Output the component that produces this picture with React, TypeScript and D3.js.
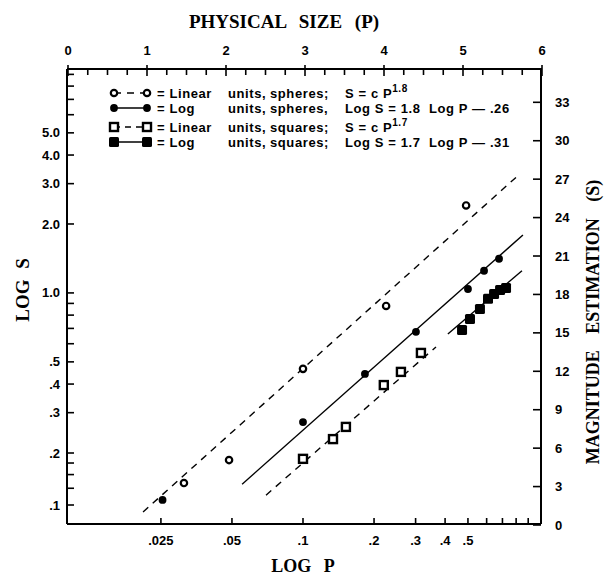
import React from "react";
import * as d3 from "d3";

// P values on the log axis, S values on the log axis
const linearSpheresP = [0.0313, 0.0486, 0.1, 0.225, 0.491];
const linearSpheresS = [0.134, 0.182, 0.466, 0.877, 2.41];

const logSpheresP = [0.0254, 0.1, 0.183, 0.301, 0.5, 0.585, 0.677];
const logSpheresS = [0.107, 0.273, 0.443, 0.676, 1.04, 1.25, 1.41];

const linearSquaresP = [0.1, 0.134, 0.152, 0.22, 0.26, 0.316];
const linearSquaresS = [0.185, 0.23, 0.26, 0.396, 0.452, 0.547];

const logSquaresP = [0.472, 0.51, 0.562, 0.608, 0.645, 0.684, 0.725];
const logSquaresS = [0.689, 0.77, 0.851, 0.942, 0.99, 1.03, 1.05];

// fitted lines: [start, end]
const fitLinearSpheres = [[0.021, 0.0911], [0.83, 3.31]];
const fitLogSpheres = [[0.0552, 0.132], [0.855, 1.79]];
const fitLinearSquares = [[0.0697, 0.114], [0.366, 0.581]];
const fitLogSquares = [[0.411, 0.662], [0.847, 1.25]];

const bottomTicks = [0.025, 0.05, 0.1, 0.2, 0.3, 0.4, 0.5];
const bottomLabels = [".025", ".05", ".1", ".2", ".3", ".4", ".5"];
const bottomMinor = [0.6, 0.7, 0.8, 0.9];

const leftTicks = [0.1, 0.2, 0.3, 0.4, 0.5, 1, 2, 3, 4, 5];
const leftLabels = [".1", ".2", ".3", ".4", ".5", "1.0", "2.0", "3.0", "4.0", "5.0"];
const leftMinor = [0.125, 0.15, 0.175, 0.6, 0.7, 0.8, 0.9, 6, 7, 8, 9];

const topTicks = [0, 1, 2, 3, 4, 5, 6];
const rightTicks = [0, 3, 6, 9, 12, 15, 18, 21, 24, 27, 30, 33];

const legendWords = ["Linear", "Log", "Linear", "Log"];
const legendShapes = ["spheres;", "spheres,", "squares;", "squares;"];

const W = 613;
const H = 579;
const L = 67;
const R = 540;
const T = 69;
const B = 524;

const sans = "'Liberation Sans', Arial, sans-serif";
const serif = "'Liberation Serif', 'Times New Roman', serif";

export default function App() {
  const x = d3.scaleLog().domain([0.01, 1]).range([L, R - 1]);
  const xTop = d3.scaleLinear().domain([0, 6]).range([68, 542]);
  // the printed log S axis is squeezed below .2, so the scale is piecewise
  const y = d3
    .scaleLog()
    .domain([0.0776, 0.1, 0.2, 9.5])
    .range([B, 505, 453, T]);
  const yRight = d3.scaleLinear().domain([0, 35.6]).range([525, T]);

  const line = d3
    .line<number[]>()
    .x((d) => x(d[0]))
    .y((d) => y(d[1]));

  const topMinor = d3.range(0, 6.01, 0.25).filter((v) => v % 1 !== 0);

  const dash = "7,6";

  const openCircle = (cx: number, cy: number, k: string | number) => (
    <circle key={k} cx={cx} cy={cy} r={3.2} fill="white" stroke="black" strokeWidth={2.2} />
  );
  const filledCircle = (cx: number, cy: number, k: string | number) => (
    <circle key={k} cx={cx} cy={cy} r={3.9} fill="black" />
  );
  const openSquare = (cx: number, cy: number, k: string | number) => (
    <rect key={k} x={cx - 4} y={cy - 4} width={8} height={8} fill="white" stroke="black" strokeWidth={2.4} />
  );
  const filledSquare = (cx: number, cy: number, k: string | number) => (
    <rect key={k} x={cx - 5} y={cy - 5} width={10} height={10} rx={1.5} fill="black" />
  );

  const legendY = [93, 108, 127, 142];
  const legendMarks = [openCircle, filledCircle, openSquare, filledSquare];
  const legendDash = [dash, null, "6,5", null];

  const formula = (i: number) => {
    if (i === 0)
      return (
        <>
          S = c P<tspan dy={-6} fontSize={10}>1.8</tspan>
        </>
      );
    if (i === 1) return <>Log S = 1.8  Log P — .26</>;
    if (i === 2)
      return (
        <>
          S = c P<tspan dy={-6} fontSize={10}>1.7</tspan>
        </>
      );
    return <>Log S = 1.7  Log P — .31</>;
  };

  return (
    <svg
      width={W}
      height={H}
      style={{ position: "absolute", left: 0, top: 0, background: "white" }}
    >
      {/* frame */}
      <g stroke="black" strokeWidth={2} fill="none">
        <line x1={L} y1={T} x2={R + 2} y2={T} />
        <line x1={L} y1={B} x2={R + 1} y2={B} />
        <line x1={L} y1={T} x2={L} y2={B} />
        <line x1={R + 1} y1={T} x2={R + 1} y2={B} />
      </g>

      {/* top axis: physical size */}
      <g stroke="black" strokeWidth={1.6}>
        {topTicks.map((t) => (
          <line key={t} x1={xTop(t)} x2={xTop(t)} y1={T - 4} y2={T + 7} />
        ))}
        {topMinor.map((t) => (
          <line key={t} x1={xTop(t)} x2={xTop(t)} y1={T} y2={T + 6} />
        ))}
      </g>
      {topTicks.map((t) => (
        <text
          key={t}
          x={xTop(t)}
          y={55}
          textAnchor="middle"
          fontFamily={sans}
          fontWeight="bold"
          fontSize={13}
        >
          {t}
        </text>
      ))}
      <text
        x={284}
        y={28}
        textAnchor="middle"
        fontFamily={serif}
        fontWeight="bold"
        fontSize={19}
        style={{ wordSpacing: 8 }}
      >
        PHYSICAL SIZE (P)
      </text>

      {/* bottom axis: log P */}
      <g stroke="black" strokeWidth={1.6}>
        {bottomTicks.concat(bottomMinor).map((t) => (
          <line key={t} x1={x(t)} x2={x(t)} y1={B} y2={B - 6} />
        ))}
      </g>
      {bottomTicks.map((t, i) => (
        <text
          key={t}
          x={x(t)}
          y={545}
          textAnchor="middle"
          fontFamily={sans}
          fontWeight="bold"
          fontSize={13}
        >
          {bottomLabels[i]}
        </text>
      ))}
      <text
        x={303}
        y={572}
        textAnchor="middle"
        fontFamily={serif}
        fontWeight="bold"
        fontSize={18}
        style={{ wordSpacing: 8 }}
      >
        LOG P
      </text>

      {/* left axis: log S */}
      <g stroke="black" strokeWidth={1.6}>
        {leftTicks.concat(leftMinor).map((t) => (
          <line key={t} x1={L} x2={L + 7} y1={y(t)} y2={y(t)} />
        ))}
      </g>
      {leftTicks.map((t, i) => (
        <text
          key={t}
          x={60}
          y={y(t)}
          dy="0.35em"
          textAnchor="end"
          fontFamily={sans}
          fontWeight="bold"
          fontSize={13}
        >
          {leftLabels[i]}
        </text>
      ))}
      <text
        transform="translate(29,290) rotate(-90)"
        textAnchor="middle"
        fontFamily={serif}
        fontWeight="bold"
        fontSize={19}
        style={{ wordSpacing: 6 }}
      >
        LOG S
      </text>

      {/* right axis: magnitude estimation */}
      <g stroke="black" strokeWidth={1.6}>
        {rightTicks.map((t) => (
          <line key={t} x1={R + 1} x2={R - 7} y1={yRight(t)} y2={yRight(t)} />
        ))}
      </g>
      {rightTicks.map((t) => (
        <text
          key={t}
          x={555}
          y={yRight(t)}
          dy="0.35em"
          fontFamily={sans}
          fontWeight="bold"
          fontSize={13}
        >
          {t}
        </text>
      ))}
      <text
        transform="translate(599,322) rotate(-90)"
        textAnchor="middle"
        fontFamily={serif}
        fontWeight="bold"
        fontSize={18}
        style={{ wordSpacing: 12 }}
      >
        MAGNITUDE ESTIMATION (S)
      </text>

      {/* fitted lines */}
      <g fill="none" stroke="black" strokeWidth={1.4}>
        <path d={line(fitLinearSpheres) || ""} strokeDasharray={dash} />
        <path d={line(fitLogSpheres) || ""} />
        <path d={line(fitLinearSquares) || ""} strokeDasharray={dash} />
        <path d={line(fitLogSquares) || ""} />
      </g>

      {/* data points */}
      {linearSpheresP.map((p, i) => openCircle(x(p), y(linearSpheresS[i]), "a" + i))}
      {logSpheresP.map((p, i) => filledCircle(x(p), y(logSpheresS[i]), "b" + i))}
      {linearSquaresP.map((p, i) => openSquare(x(p), y(linearSquaresS[i]), "c" + i))}
      {logSquaresP.map((p, i) => filledSquare(x(p), y(logSquaresS[i]), "d" + i))}

      {/* legend */}
      {legendY.map((ly, i) => (
        <g key={i}>
          <line
            x1={114}
            x2={147}
            y1={ly}
            y2={ly}
            stroke="black"
            strokeWidth={1.4}
            strokeDasharray={legendDash[i] || undefined}
          />
          {legendMarks[i](114, ly, "l" + i)}
          {legendMarks[i](147, ly, "r" + i)}
          <g fontFamily={sans} fontWeight="bold" fontSize={13} style={{ letterSpacing: 0.6 }}>
            <text x={157} y={ly} dy="0.35em">
              {"= " + legendWords[i]}
            </text>
            <text x={228} y={ly} dy="0.35em">
              units,
            </text>
            <text x={270} y={ly} dy="0.35em">
              {legendShapes[i]}
            </text>
            <text x={345} y={ly} dy="0.35em" style={{ whiteSpace: "pre" }}>
              {formula(i)}
            </text>
          </g>
        </g>
      ))}
    </svg>
  );
}
